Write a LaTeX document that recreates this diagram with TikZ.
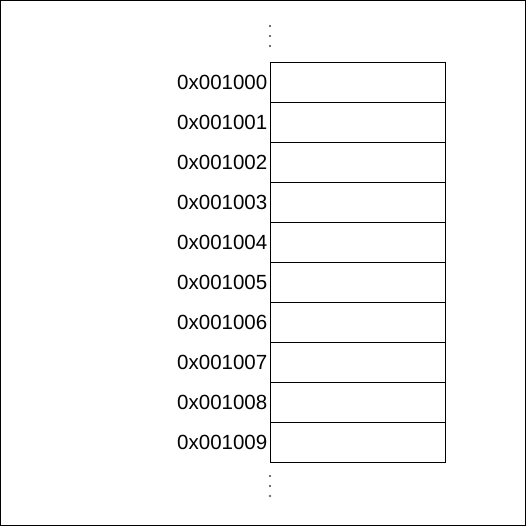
\documentclass[tikz,border=0pt]{standalone}
\usepackage{fontspec}
\setmainfont{Liberation Sans}
\begin{document}
\begin{tikzpicture}[x=1pt,y=-1pt]

        \useasboundingbox (0,0) rectangle (526,526);
        \draw[line width=1pt] (0.5,0.5) rectangle (525.5,525.5);

        \begin{scope}[every node/.style={draw,line width=1pt,minimum width=175pt,minimum height=40pt,inner sep=0pt}]
          \foreach \i in {0,...,9}
            \node (cell\i) at (357.5,82.5+40*\i) {};
        \end{scope}

        \begin{scope}[every node/.style={anchor=east,inner sep=2pt,font=\fontsize{20.5}{24}\selectfont}]
          \foreach \i in {0,...,9}
            \node (addr\i) at (cell\i.west) {0x00100\i};
        \end{scope}

        % ellipsis above and below
        \begin{scope}[every path/.style={fill=black!75}]
          \foreach \y in {26,36,46,476,486,496}
            \fill (270,\y) circle (1.1pt);
        \end{scope}

      \end{tikzpicture}
\end{document}
